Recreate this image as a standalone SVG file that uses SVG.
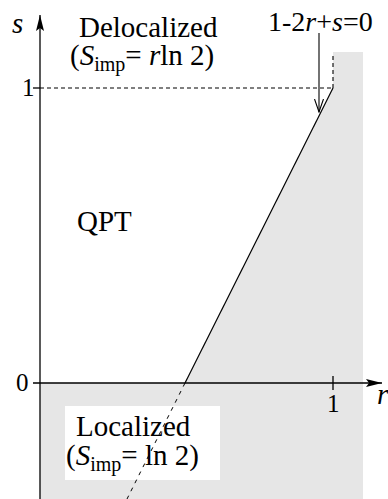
<svg xmlns="http://www.w3.org/2000/svg" width="388" height="499" viewBox="0 0 388 499">
<style>
.t{font-family:"Liberation Serif","Times New Roman",serif;fill:#000}
.i{font-style:italic}
.ax{stroke:#000;stroke-width:1.3;fill:none}
.dash{stroke:#000;stroke-width:1.1;fill:none;stroke-dasharray:4 3}
.dash2{stroke:#000;stroke-width:1;fill:none;stroke-dasharray:4 5}
</style>
<defs>
<marker id="fa" viewBox="0 0 16 8" refX="16" refY="4" markerWidth="16" markerHeight="8" markerUnits="userSpaceOnUse" orient="auto">
<path d="M0,0 L16,4 L0,8 L3,4 Z" fill="#000"/>
</marker>
<marker id="oa" viewBox="0 0 14 10" refX="13" refY="5" markerWidth="14" markerHeight="10" markerUnits="userSpaceOnUse" orient="auto">
<path d="M0,0.5 L13,5 L0,9.5" fill="none" stroke="#000" stroke-width="1.1"/>
</marker>
</defs>
<rect width="388" height="499" fill="#fff"/>
<g id="regions">
<polygon points="40,383 185,383 333,88 333,52 363,52 363,499 40,499" fill="#e6e6e6"/>
<rect x="65" y="406" width="155" height="74" fill="#fff"/>
</g>
<g id="connectors">
<line class="ax" x1="40" y1="499" x2="40" y2="15" marker-end="url(#fa)"/>
<line class="ax" x1="33" y1="383" x2="382" y2="383" marker-end="url(#fa)"/>
<line class="ax" x1="33" y1="88" x2="40" y2="88"/>
<line class="ax" x1="333" y1="376" x2="333" y2="390"/>
<line class="dash" x1="40" y1="88" x2="333" y2="88"/>
<line class="dash" x1="333" y1="88" x2="333" y2="54"/>
<line stroke="#000" stroke-width="1.2" x1="333" y1="88" x2="185" y2="383"/>
<line class="dash2" x1="185" y1="383" x2="127" y2="499"/>
<line stroke="#000" stroke-width="1.1" x1="319" y1="33" x2="319" y2="112" marker-end="url(#oa)"/>
</g>
<g id="labels">
<text class="t i" x="12" y="33" font-size="29">s</text>
<text class="t" x="22" y="96" font-size="25">1</text>
<text class="t" x="16" y="391" font-size="25">0</text>
<text class="t" x="327" y="412" font-size="25">1</text>
<text class="t i" x="377" y="404" font-size="29">r</text>
<text class="t" x="268" y="31" font-size="28">1-2<tspan class="i">r</tspan>+<tspan class="i">s</tspan>=0</text>
</g>
<g id="delocalized">
<text class="t" x="79" y="37" font-size="29">Delocalized</text>
<text class="t" x="70" y="65" font-size="29">(<tspan class="i">S</tspan><tspan font-size="20" dy="6">imp</tspan><tspan dy="-6">= </tspan><tspan class="i">r</tspan>ln 2)</text>
</g>
<g id="qpt">
<text class="t" x="77" y="231" font-size="29">QPT</text>
</g>
<g id="localized">
<text class="t" x="76" y="436" font-size="29">Localized</text>
<text class="t" x="66" y="465" font-size="29">(<tspan class="i">S</tspan><tspan font-size="20" dy="6">imp</tspan><tspan dy="-6">= ln 2)</tspan></text>
</g>
</svg>
